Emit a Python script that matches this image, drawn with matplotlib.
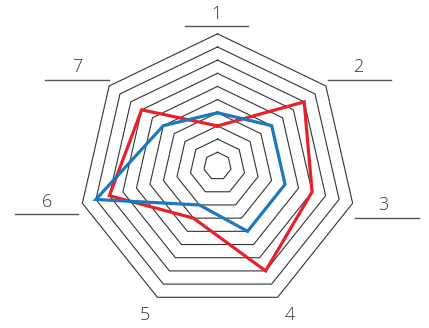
import matplotlib
matplotlib.use('Agg')
import matplotlib.pyplot as plt
import numpy as np

plt.rcParams['font.family'] = ['Open Sans', 'DejaVu Sans']

RED  = '#e8202a'
BLUE = '#1d78be'
GRID = '#333333'

# data: one value per spoke, 0..10 scale
axes_labels = ['1', '2', '3', '4', '5', '6', '7']
red_vals  = [3, 8, 7, 8, 4, 8, 7]
blue_vals = [4, 5, 5, 5, 3, 9, 5]
n_rings = 10

# layout (pixel space, y down)
CX, CY = 217.5, 165.4     # centre of the smallest ring
STEP = 13.86              # px per unit
DROP = 0.7                # rings sag slightly downward as they grow

n = len(axes_labels)
theta = np.pi / 2 - np.arange(n) * 2 * np.pi / n


def to_px(vals):
    vals = np.asarray(vals, dtype=float)
    x = CX + STEP * vals * np.cos(theta)
    y = CY + DROP * vals - STEP * vals * np.sin(theta)
    return np.append(x, x[0]), np.append(y, y[0])


fig = plt.figure(figsize=(4.29, 3.28), dpi=100)
ax = fig.add_axes([0, 0, 1, 1])
ax.set_xlim(0, 429)
ax.set_ylim(328, 0)
ax.axis('off')

for k in range(1, n_rings + 1):
    x, y = to_px([k] * n)
    ax.plot(x, y, color=GRID, lw=0.8, solid_joinstyle='miter')

x, y = to_px(red_vals)
ax.plot(x, y, color=RED, lw=2.3, solid_joinstyle='miter', zorder=3)
x, y = to_px(blue_vals)
ax.plot(x, y, color=BLUE, lw=2.3, solid_joinstyle='miter', zorder=4)

# spoke labels with short rules under most of them
label_pos = [(216, 14), (358, 67), (383, 205), (290, 315),
             (145, 315), (47, 202), (77, 67)]
rules = [(185, 248, 25.5), (328, 391, 80), (355, 419, 218), None,
         None, (15, 78, 214), (45, 109, 80)]
for lab, (lx, ly), rule in zip(axes_labels, label_pos, rules):
    ax.text(lx, ly, lab, ha='center', va='center', fontsize=13,
            fontweight='light', color='#3a3a3a')
    if rule:
        ax.plot([rule[0], rule[1]], [rule[2], rule[2]], color='#555555', lw=1.0)

fig.savefig('out.png', dpi=100)
plt.close()
